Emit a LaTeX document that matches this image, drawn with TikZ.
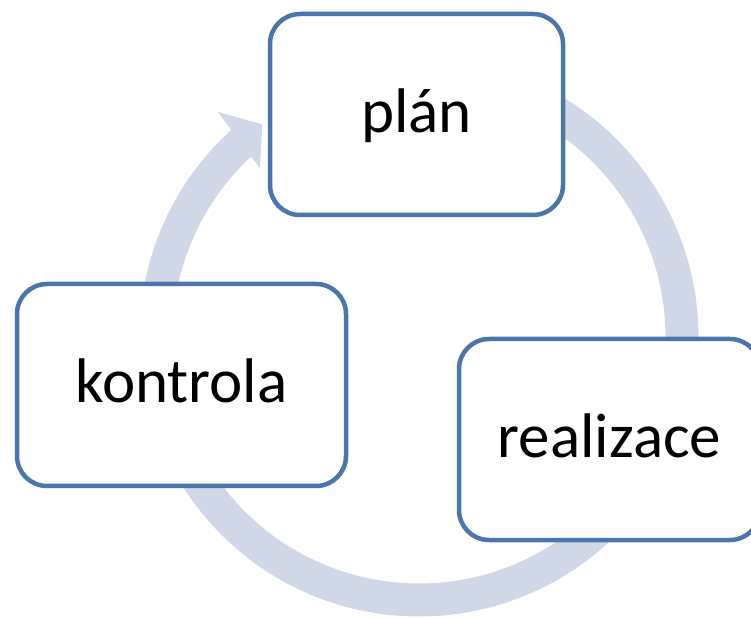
\documentclass[tikz,border=0pt]{standalone}
\usepackage{fontspec}
\setmainfont{Carlito}
\definecolor{boxblue}{RGB}{74,118,172}
\definecolor{bandblue}{RGB}{208,216,232}

\begin{document}
\begin{tikzpicture}[
  x=1pt,y=1pt,
  box/.style={draw=boxblue,fill=white,line width=4.5pt,rounded corners=30pt,
    font=\fontsize{63}{75}\selectfont,text height=36pt,text depth=0pt,inner sep=0pt},
  band/.style={draw=bandblue,line width=33pt}
]
\useasboundingbox (0,0) rectangle (751,618);
\clip (0,0) rectangle (751,618);
\coordinate (hub) at (419,281);
% ring with one visible head
\draw[band] (hub) ++(131.5:263) arc[start angle=131.5,end angle=420,radius=263];
\fill[bandblue,shift={(hub)}] (131.8:302) -- (126.4:264) -- (133.3:232) -- cycle;
\node[box,minimum width=293pt,minimum height=201pt] (plan) at (416.5,503.5) {plán};
\node[box,minimum width=329pt,minimum height=202pt] (kontrola) at (181.5,233) {kontrola};
\node[box,minimum width=301pt,minimum height=201pt] (realizace) at (609.5,178.5) {realizace};
\end{tikzpicture}
\end{document}
